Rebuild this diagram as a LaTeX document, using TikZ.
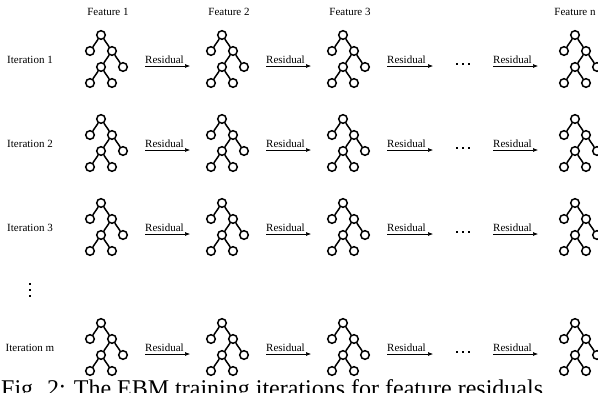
\documentclass[tikz,border=0pt]{standalone}
\usepackage{fontspec}
\setmainfont{Liberation Serif}
\usetikzlibrary{arrows.meta}
\newcommand\mytree[3]{%
  \begin{scope}[shift={(#2,#3)}]
    \node[tn] (#1-a) at (0,0) {};
    \node[tn] (#1-b) at (-11,16) {};
    \node[tn] (#1-c) at (11,16) {};
    \node[tn] (#1-d) at (0,32) {};
    \node[tn] (#1-e) at (22,32) {};
    \node[tn] (#1-f) at (-11,48) {};
    \node[tn] (#1-g) at (11,48) {};
    \draw[te] (#1-a) -- (#1-b);
    \draw[te] (#1-a) -- (#1-c);
    \draw[te] (#1-c) -- (#1-d);
    \draw[te] (#1-c) -- (#1-e);
    \draw[te] (#1-d) -- (#1-f);
    \draw[te] (#1-d) -- (#1-g);
  \end{scope}}
\newcommand\myresid[4]{% name, x start, x end, y line
  \coordinate (#1-s) at (#2,#4);
  \coordinate (#1-t) at (#3,#4);
  \draw[res] (#1-s) -- (#1-t);
  \node[lbl,anchor=base west] (#1-l) at (#2,#4-2.6) {Residual};}
\begin{document}
\begin{tikzpicture}[x=1pt,y=-1pt,
  tn/.style={circle,draw,line width=1.5pt,fill=white,minimum size=8.6pt,inner sep=0pt},
  te/.style={line width=1.5pt},
  lbl/.style={font=\fontsize{11}{13}\selectfont,inner sep=0pt},
  res/.style={-{Latex[length=5pt,width=4pt]},line width=0.6pt},
  dotsq/.style={rectangle,fill=black,minimum size=2.6pt,inner sep=0pt}
]
\useasboundingbox (0,0) rectangle (598,392);
\clip (0,0) rectangle (598,392);
\fill[white] (0,0) rectangle (598,392);
% headers
\node[lbl] (h1) at (108,12) {Feature 1};
\node[lbl] (h2) at (229,12) {Feature 2};
\node[lbl] (h3) at (350,12) {Feature 3};
\node[lbl] (hn) at (575,12) {Feature n};
% rows
\foreach \r/\ly/\nm in {1/60/1, 2/144/2, 3/228/3, 4/348/m}{
  \node[lbl] (it\r) at (30,\ly) {Iteration \nm};
  \mytree{t\r a}{101}{\ly-25}
  \mytree{t\r b}{222}{\ly-25}
  \mytree{t\r c}{343}{\ly-25}
  \mytree{t\r n}{575}{\ly-25}
  \myresid{r\r a}{145}{190}{\ly+6}
  \myresid{r\r b}{266}{311}{\ly+6}
  \myresid{r\r c}{387}{433}{\ly+6}
  \myresid{r\r d}{493}{538}{\ly+6}
  \node[dotsq] (d\r a) at (457,\ly+4) {};
  \node[dotsq] (d\r b) at (463,\ly+4) {};
  \node[dotsq] (d\r c) at (469,\ly+4) {};
}
% vertical dots
\node[dotsq] (v1) at (30,284) {};
\node[dotsq] (v2) at (30,290) {};
\node[dotsq] (v3) at (30,296) {};
% caption (cut off at bottom)
\node[font=\fontsize{24}{28}\selectfont,anchor=base west,inner sep=0pt] (cap) at (1,396) {Fig. 2: The EBM training iterations for feature residuals};
\end{tikzpicture}
\end{document}
